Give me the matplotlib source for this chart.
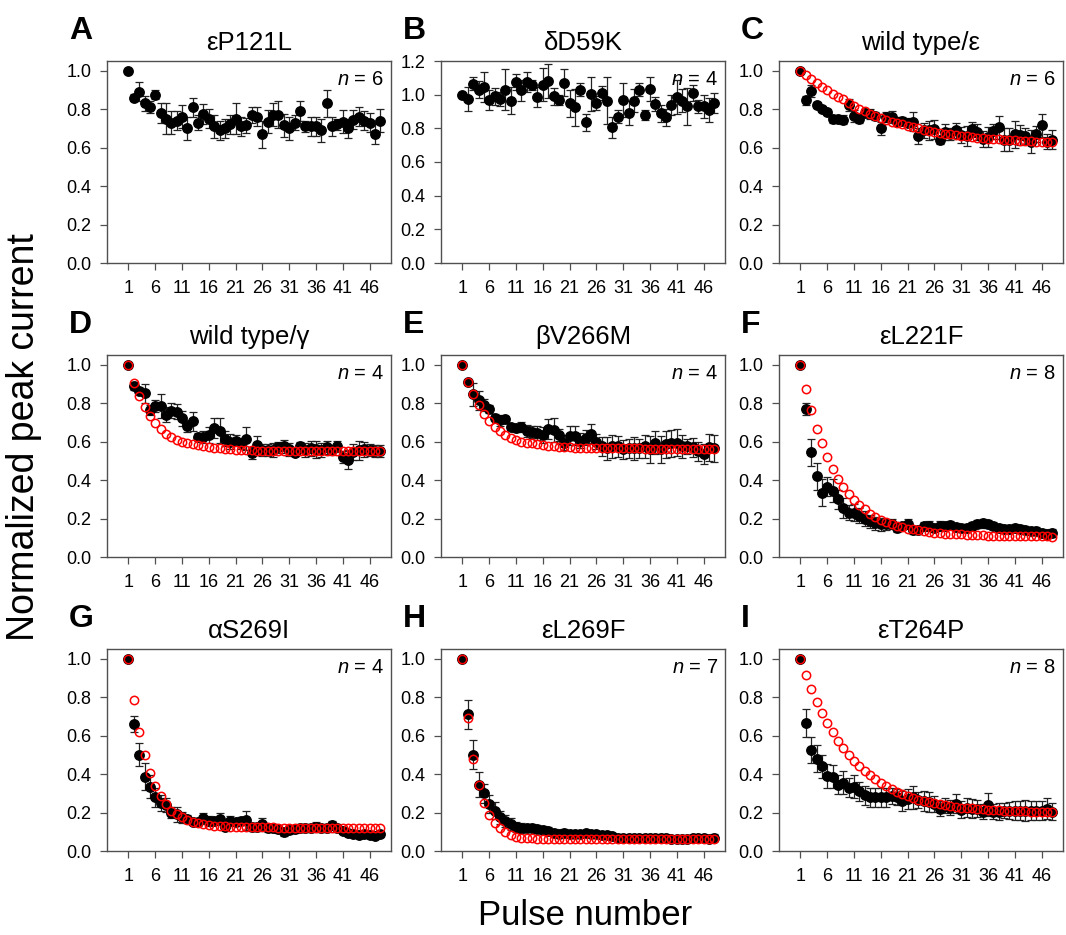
import matplotlib
matplotlib.use('Agg')
import matplotlib.pyplot as plt
import numpy as np

plt.rcParams['font.family'] = ['Liberation Sans', 'DejaVu Sans']
plt.rcParams['mathtext.fontset'] = 'custom'
plt.rcParams['mathtext.it'] = 'Liberation Sans:italic'
plt.rcParams['mathtext.rm'] = 'Liberation Sans'

pulses = np.arange(1, 49)
xticks = [1, 6, 11, 16, 21, 26, 31, 36, 41, 46]

titles = ['εP121L', 'δD59K', 'wild type/ε',
          'wild type/γ', 'βV266M', 'εL221F',
          'αS269I', 'εL269F', 'εT264P']
letters = ['A', 'B', 'C', 'D', 'E', 'F', 'G', 'H', 'I']
n_cells = [6, 4, 6, 4, 4, 8, 4, 7, 8]

# mean normalized peak current (black) and SEM
mean_A = [1.0, 0.86, 0.89, 0.83, 0.81, 0.875, 0.78, 0.75, 0.73, 0.74,
          0.76, 0.70, 0.81, 0.73, 0.775, 0.75, 0.71, 0.69, 0.70, 0.72,
          0.75, 0.71, 0.715, 0.77, 0.76, 0.67, 0.735, 0.77, 0.77, 0.715,
          0.70, 0.73, 0.79, 0.71, 0.71, 0.71, 0.69, 0.83, 0.71, 0.72,
          0.735, 0.70, 0.745, 0.76, 0.74, 0.73, 0.67, 0.74]
err_A = [0, 0.02, 0.05, 0.04, 0.03, 0.025, 0.05, 0.08, 0.06, 0.05,
         0.06, 0.06, 0.05, 0.04, 0.05, 0.05, 0.06, 0.05, 0.05, 0.05,
         0.08, 0.05, 0.04, 0.04, 0.05, 0.07, 0.06, 0.06, 0.07, 0.06,
         0.06, 0.04, 0.05, 0.03, 0.05, 0.05, 0.06, 0.07, 0.05, 0.03,
         0.06, 0.05, 0.05, 0.05, 0.05, 0.05, 0.05, 0.06]

mean_B = [1.00, 0.975, 1.065, 1.03, 1.045, 0.97, 0.99, 0.975, 1.03, 0.965,
          1.075, 1.025, 1.075, 1.06, 0.985, 1.06, 1.08, 0.99, 0.97, 1.07,
          0.95, 0.925, 1.03, 0.835, 1.005, 0.95, 1.01, 0.965, 0.805, 0.87,
          0.97, 0.89, 0.965, 1.03, 0.88, 1.035, 0.945, 0.89, 0.865, 0.94,
          0.985, 0.965, 0.93, 1.01, 0.93, 0.93, 0.91, 0.95]
err_B = [0, 0.07, 0.04, 0.05, 0.09, 0.06, 0.05, 0.04, 0.12, 0.08,
         0.05, 0.06, 0.06, 0.03, 0.06, 0.10, 0.10, 0.05, 0.03, 0.08,
         0.08, 0.11, 0.04, 0.05, 0.10, 0.04, 0.04, 0.14, 0.06, 0.04,
         0.10, 0.07, 0.07, 0.04, 0.03, 0.07, 0.04, 0.05, 0.05, 0.06,
         0.10, 0.07, 0.11, 0.05, 0.04, 0.07, 0.07, 0.06]

mean_C = [1.0, 0.845, 0.895, 0.82, 0.80, 0.785, 0.75, 0.75, 0.745, 0.82,
          0.765, 0.75, 0.78, 0.775, 0.765, 0.70, 0.76, 0.76, 0.735, 0.74,
          0.73, 0.735, 0.66, 0.69, 0.69, 0.695, 0.64, 0.68, 0.67, 0.69,
          0.665, 0.66, 0.695, 0.68, 0.645, 0.655, 0.685, 0.705, 0.64, 0.64,
          0.67, 0.665, 0.66, 0.63, 0.67, 0.715, 0.63, 0.64]
err_C = [0, 0.025, 0.03, 0.015, 0.015, 0.015, 0.02, 0.015, 0.025, 0.03,
         0.03, 0.02, 0.02, 0.025, 0.02, 0.035, 0.025, 0.03, 0.025, 0.02,
         0.025, 0.05, 0.04, 0.04, 0.05, 0.05, 0.02, 0.04, 0.03, 0.04,
         0.04, 0.05, 0.04, 0.04, 0.04, 0.05, 0.04, 0.06, 0.06, 0.06,
         0.07, 0.05, 0.04, 0.06, 0.04, 0.06, 0.04, 0.05]
fit_C = [1.0, 0.975, 0.955, 0.935, 0.915, 0.90, 0.88, 0.865, 0.85, 0.83,
         0.815, 0.80, 0.79, 0.775, 0.765, 0.755, 0.745, 0.735, 0.73, 0.72,
         0.71, 0.705, 0.70, 0.69, 0.685, 0.68, 0.675, 0.67, 0.67, 0.665,
         0.66, 0.66, 0.655, 0.65, 0.65, 0.645, 0.645, 0.645, 0.64, 0.64,
         0.64, 0.635, 0.635, 0.635, 0.63, 0.63, 0.63, 0.63]

mean_D = [1.0, 0.89, 0.865, 0.85, 0.765, 0.785, 0.785, 0.74, 0.76, 0.755,
          0.72, 0.68, 0.705, 0.625, 0.625, 0.635, 0.67, 0.655, 0.615, 0.60,
          0.605, 0.59, 0.615, 0.54, 0.58, 0.555, 0.555, 0.555, 0.57, 0.575,
          0.56, 0.54, 0.575, 0.555, 0.565, 0.56, 0.555, 0.57, 0.555, 0.575,
          0.52, 0.505, 0.545, 0.555, 0.56, 0.555, 0.55, 0.55]
err_D = [0, 0.02, 0.02, 0.05, 0.025, 0.03, 0.06, 0.04, 0.04, 0.04,
         0.04, 0.03, 0.05, 0.02, 0.03, 0.04, 0.05, 0.065, 0.04, 0.04,
         0.03, 0.03, 0.06, 0.03, 0.05, 0.03, 0.03, 0.035, 0.03, 0.035,
         0.035, 0.015, 0.025, 0.035, 0.04, 0.045, 0.035, 0.035, 0.025, 0.03,
         0.03, 0.05, 0.04, 0.05, 0.04, 0.03, 0.03, 0.03]
fit_D = [1.0, 0.905, 0.835, 0.78, 0.735, 0.695, 0.665, 0.64, 0.625, 0.61,
         0.60, 0.59, 0.585, 0.58, 0.575, 0.57, 0.568, 0.565, 0.562, 0.56,
         0.558, 0.556, 0.555, 0.554, 0.553, 0.553, 0.552, 0.552, 0.552, 0.551,
         0.551, 0.551, 0.551, 0.551, 0.550, 0.550, 0.550, 0.550, 0.550, 0.550,
         0.550, 0.550, 0.550, 0.550, 0.550, 0.550, 0.550, 0.550]

mean_E = [1.0, 0.91, 0.845, 0.815, 0.79, 0.77, 0.725, 0.71, 0.715, 0.675,
          0.67, 0.675, 0.655, 0.65, 0.645, 0.635, 0.665, 0.66, 0.635, 0.595,
          0.63, 0.63, 0.605, 0.62, 0.64, 0.60, 0.575, 0.565, 0.575, 0.575,
          0.56, 0.565, 0.565, 0.565, 0.575, 0.56, 0.595, 0.56, 0.585, 0.59,
          0.595, 0.575, 0.575, 0.57, 0.55, 0.535, 0.57, 0.565]
err_E = [0, 0.01, 0.06, 0.05, 0.03, 0.02, 0.02, 0.03, 0.02, 0.015,
         0.02, 0.025, 0.03, 0.03, 0.035, 0.04, 0.05, 0.06, 0.03, 0.04,
         0.05, 0.05, 0.04, 0.04, 0.05, 0.04, 0.05, 0.06, 0.06, 0.055,
         0.05, 0.05, 0.06, 0.05, 0.06, 0.07, 0.06, 0.07, 0.07, 0.07,
         0.07, 0.06, 0.04, 0.05, 0.05, 0.05, 0.07, 0.07]
fit_E = [1.0, 0.91, 0.845, 0.79, 0.745, 0.705, 0.675, 0.655, 0.635, 0.62,
         0.61, 0.60, 0.595, 0.59, 0.585, 0.58, 0.578, 0.575, 0.573, 0.572,
         0.57, 0.569, 0.568, 0.567, 0.566, 0.566, 0.565, 0.565, 0.565, 0.564,
         0.564, 0.564, 0.564, 0.564, 0.563, 0.563, 0.563, 0.563, 0.563, 0.563,
         0.563, 0.563, 0.563, 0.563, 0.563, 0.563, 0.563, 0.563]

mean_F = [1.0, 0.77, 0.545, 0.42, 0.335, 0.365, 0.345, 0.30, 0.255, 0.23,
          0.23, 0.215, 0.20, 0.185, 0.175, 0.17, 0.17, 0.17, 0.15, 0.16,
          0.17, 0.14, 0.14, 0.16, 0.16, 0.15, 0.16, 0.16, 0.165, 0.155,
          0.15, 0.15, 0.16, 0.17, 0.175, 0.17, 0.16, 0.15, 0.145, 0.145,
          0.15, 0.145, 0.14, 0.135, 0.135, 0.125, 0.12, 0.125]
err_F = [0, 0.03, 0.07, 0.07, 0.07, 0.05, 0.06, 0.05, 0.05, 0.04,
         0.045, 0.04, 0.04, 0.035, 0.035, 0.035, 0.03, 0.025, 0.02, 0.02,
         0.025, 0.02, 0.02, 0.02, 0.025, 0.02, 0.025, 0.02, 0.02, 0.02,
         0.02, 0.02, 0.02, 0.02, 0.025, 0.02, 0.02, 0.02, 0.02, 0.02,
         0.02, 0.02, 0.02, 0.02, 0.02, 0.02, 0.02, 0.02]
fit_F = [1.0, 0.873, 0.765, 0.667, 0.59, 0.52, 0.46, 0.407, 0.364, 0.328,
         0.295, 0.27, 0.247, 0.225, 0.208, 0.192, 0.18, 0.17, 0.162, 0.155,
         0.148, 0.143, 0.138, 0.134, 0.13, 0.127, 0.124, 0.122, 0.12, 0.118,
         0.117, 0.115, 0.114, 0.113, 0.112, 0.111, 0.11, 0.11, 0.109, 0.109,
         0.108, 0.108, 0.108, 0.107, 0.107, 0.107, 0.107, 0.106]

mean_G = [1.0, 0.66, 0.50, 0.385, 0.335, 0.28, 0.25, 0.24, 0.20, 0.19,
          0.175, 0.165, 0.15, 0.15, 0.17, 0.155, 0.155, 0.165, 0.125, 0.155,
          0.15, 0.155, 0.16, 0.125, 0.125, 0.14, 0.12, 0.12, 0.115, 0.10,
          0.11, 0.115, 0.12, 0.12, 0.12, 0.125, 0.12, 0.12, 0.135, 0.12,
          0.105, 0.095, 0.09, 0.085, 0.09, 0.085, 0.08, 0.09]
err_G = [0, 0.04, 0.06, 0.07, 0.06, 0.05, 0.04, 0.035, 0.03, 0.04,
         0.03, 0.02, 0.015, 0.02, 0.03, 0.025, 0.02, 0.03, 0.015, 0.025,
         0.02, 0.02, 0.05, 0.02, 0.02, 0.03, 0.02, 0.02, 0.02, 0.02,
         0.02, 0.02, 0.02, 0.02, 0.02, 0.025, 0.02, 0.02, 0.02, 0.02,
         0.015, 0.015, 0.015, 0.015, 0.015, 0.015, 0.015, 0.015]
fit_G = [1.0, 0.786, 0.62, 0.50, 0.405, 0.34, 0.285, 0.245, 0.21, 0.19,
         0.175, 0.16, 0.152, 0.145, 0.14, 0.135, 0.132, 0.13, 0.128, 0.127,
         0.126, 0.125, 0.125, 0.124, 0.124, 0.123, 0.123, 0.123, 0.122, 0.122,
         0.122, 0.122, 0.121, 0.121, 0.121, 0.121, 0.121, 0.121, 0.120, 0.120,
         0.120, 0.120, 0.120, 0.120, 0.120, 0.120, 0.120, 0.120]

mean_H = [1.0, 0.71, 0.50, 0.345, 0.30, 0.245, 0.21, 0.175, 0.155, 0.14,
          0.125, 0.12, 0.12, 0.12, 0.115, 0.11, 0.105, 0.095, 0.09, 0.095,
          0.09, 0.09, 0.09, 0.095, 0.09, 0.09, 0.085, 0.085, 0.08, 0.07,
          0.07, 0.065, 0.07, 0.065, 0.065, 0.065, 0.065, 0.07, 0.065, 0.06,
          0.06, 0.06, 0.06, 0.065, 0.065, 0.065, 0.063, 0.07]
err_H = [0, 0.075, 0.075, 0.065, 0.05, 0.045, 0.045, 0.035, 0.03, 0.03,
         0.025, 0.025, 0.02, 0.02, 0.02, 0.02, 0.02, 0.02, 0.02, 0.02,
         0.02, 0.015, 0.015, 0.015, 0.015, 0.015, 0.015, 0.015, 0.015, 0.015,
         0.015, 0.015, 0.015, 0.015, 0.015, 0.015, 0.015, 0.02, 0.015, 0.015,
         0.015, 0.015, 0.015, 0.015, 0.015, 0.015, 0.015, 0.02]
fit_H = [1.0, 0.69, 0.48, 0.345, 0.25, 0.185, 0.145, 0.117, 0.097, 0.083,
         0.075, 0.07, 0.067, 0.065, 0.064, 0.063, 0.063, 0.062, 0.062, 0.062,
         0.061, 0.061, 0.061, 0.061, 0.061, 0.060, 0.060, 0.060, 0.060, 0.060,
         0.060, 0.060, 0.060, 0.060, 0.060, 0.060, 0.060, 0.060, 0.060, 0.060,
         0.060, 0.060, 0.060, 0.060, 0.060, 0.060, 0.060, 0.060]

mean_I = [1.0, 0.665, 0.525, 0.48, 0.44, 0.39, 0.385, 0.345, 0.355, 0.33,
          0.335, 0.31, 0.29, 0.28, 0.28, 0.28, 0.28, 0.285, 0.28, 0.26,
          0.27, 0.28, 0.265, 0.26, 0.255, 0.245, 0.22, 0.235, 0.225, 0.245,
          0.215, 0.225, 0.22, 0.22, 0.205, 0.24, 0.205, 0.205, 0.21, 0.21,
          0.21, 0.21, 0.21, 0.21, 0.21, 0.21, 0.22, 0.205]
err_I = [0, 0.075, 0.065, 0.07, 0.06, 0.06, 0.06, 0.05, 0.06, 0.05,
         0.06, 0.05, 0.05, 0.05, 0.05, 0.05, 0.05, 0.04, 0.04, 0.05,
         0.05, 0.06, 0.04, 0.05, 0.05, 0.04, 0.04, 0.04, 0.04, 0.05,
         0.045, 0.05, 0.05, 0.045, 0.04, 0.06, 0.04, 0.045, 0.04, 0.045,
         0.05, 0.05, 0.055, 0.05, 0.05, 0.05, 0.055, 0.045]
fit_I = [1.0, 0.917, 0.843, 0.777, 0.717, 0.665, 0.617, 0.574, 0.536, 0.50,
         0.47, 0.443, 0.417, 0.395, 0.374, 0.355, 0.338, 0.32, 0.308, 0.296,
         0.285, 0.275, 0.267, 0.26, 0.253, 0.247, 0.242, 0.237, 0.233, 0.23,
         0.226, 0.223, 0.221, 0.219, 0.217, 0.215, 0.213, 0.212, 0.21, 0.209,
         0.208, 0.207, 0.206, 0.205, 0.204, 0.204, 0.203, 0.203]

means = [mean_A, mean_B, mean_C, mean_D, mean_E, mean_F, mean_G, mean_H, mean_I]
errs = [err_A, err_B, err_C, err_D, err_E, err_F, err_G, err_H, err_I]
fits = [None, None, fit_C, fit_D, fit_E, fit_F, fit_G, fit_H, fit_I]

W, H = 1066, 935
fig = plt.figure(figsize=(W / 100, H / 100), dpi=100)

col_left = [107, 441, 779]
row_top = [61, 355, 649]
ax_w, ax_h = 284, 202
spine_col = '#505050'

for i in range(9):
    r, c = divmod(i, 3)
    ax = fig.add_axes([col_left[c] / W, 1 - (row_top[r] + ax_h) / H, ax_w / W, ax_h / H])
    ax.errorbar(pulses, means[i], yerr=errs[i], fmt='o', color='black', ms=6.8,
                ecolor='#222222', elinewidth=0.9, capsize=3, capthick=0.9, zorder=2)
    if fits[i] is not None:
        ax.plot(pulses, fits[i], 'o', mfc='none', mec='red', ms=6.0, mew=1.1, zorder=3)
    ax.set_xlim(-3, 50)
    if i == 1:
        ax.set_ylim(0, 1.2)
        ax.set_yticks(np.arange(0, 1.21, 0.2))
    else:
        ax.set_ylim(0, 1.05)
        ax.set_yticks(np.arange(0, 1.01, 0.2))
    ax.yaxis.set_major_formatter(matplotlib.ticker.FormatStrFormatter('%.1f'))
    ax.set_xticks(xticks)
    ax.tick_params(direction='out', length=5, width=0.9, color=spine_col,
                   labelsize=13, top=False, right=False)
    ax.tick_params(axis='x', pad=7)
    ax.tick_params(axis='y', pad=6)
    for s in ax.spines.values():
        s.set_color(spine_col)
        s.set_linewidth(1.0)
    ax.set_title(titles[i], fontsize=18.5, pad=8)
    ax.text(0.975, 0.955, '$\\it{n}$ = %d' % n_cells[i], transform=ax.transAxes,
            ha='right', va='top', fontsize=14.5)
    ax.text(-38 / ax_w, 1 + 22 / ax_h, letters[i], transform=ax.transAxes,
            ha='left', va='baseline', fontsize=23, fontweight='bold')

fig.text(24 / W, 1 - 437 / H, 'Normalized peak current', rotation=90,
         ha='center', va='center', fontsize=27)
fig.text(585 / W, 3 / H, 'Pulse number', ha='center', va='bottom', fontsize=25)

fig.savefig('out.png', dpi=100)
